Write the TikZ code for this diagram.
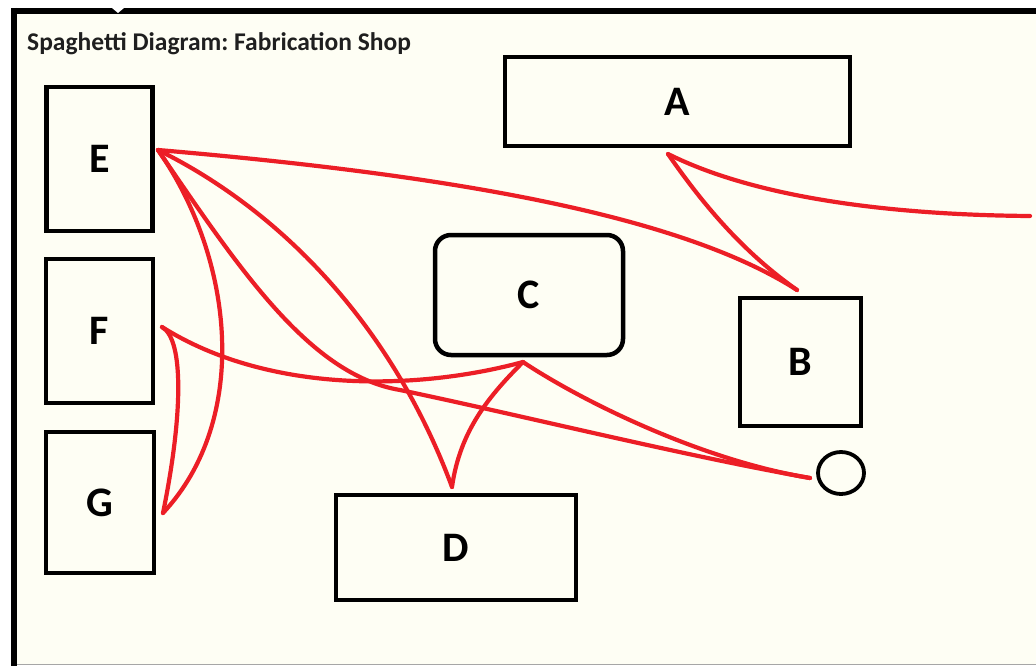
\documentclass[tikz,border=0pt]{standalone}
\usepackage{fontspec}
\setmainfont{Carlito}
\usetikzlibrary{shapes.geometric}
\definecolor{cream}{RGB}{254,254,244}
\definecolor{spag}{RGB}{236,30,38}
\frenchspacing
\begin{document}
\begin{tikzpicture}[x=1pt,y=-1pt,
  station/.style={draw=black, line width=4.5pt, inner sep=0pt,
    font=\bfseries\fontsize{42}{42}\selectfont},
  route/.style={draw=spag, line width=4.2pt, line cap=round, line join=round},
  frameline/.style={draw=black, line width=6pt}]
\useasboundingbox (0,0) rectangle (1036,666);
% background and frame
\fill[white] (0,0) rectangle (1036,666);
\fill[cream] (14,11) rectangle (1036,664);
\draw[gray!70, line width=1pt] (14,664.5) -- (1036,664.5);
\draw[frameline] (11,11) -- (1036,11);
\draw[draw=black, line width=5.5pt] (14,8) -- (14,666);
\fill[white] (112,8) -- (124,8) -- (118,13) -- cycle;
% title
\node[anchor=west, font=\bfseries\fontsize{25.5}{28}\selectfont, text=black!88, inner sep=0pt] (title) at (27,44) {Spaghetti Diagram: Fabrication Shop};
% stations
\node[station, minimum width=106pt, minimum height=144pt] (E) at (99.5,159) {E};
\node[station, minimum width=107pt, minimum height=144pt] (F) at (99.5,331) {F};
\node[station, minimum width=108pt, minimum height=141pt] (G) at (100,502.5) {G};
\node[station, minimum width=345pt, minimum height=89pt] (A) at (677.5,101.5) {A};
\node[station, minimum width=188pt, minimum height=120pt, rounded corners=16pt] (C) at (529,295) {C};
\node[station, minimum width=240pt, minimum height=105pt] (D) at (456,547.5) {D};
\node[station, minimum width=121pt, minimum height=128pt] (B) at (800.5,362) {B};
\node[ellipse, draw=black, line width=3.8pt, minimum width=46pt, minimum height=42pt, inner sep=0pt] (O) at (841,473) {};
% route ends
\coordinate (pE) at (158,150);
\coordinate (pF) at (162,327);
\coordinate (pG) at (163,513);
\coordinate (pA) at (668,154);
\coordinate (pB) at (797,290);
\coordinate (pC) at (523,362);
\coordinate (pD) at (452,487);
\coordinate (pO) at (810,478);
\coordinate (pR) at (1030,216);
\coordinate (via) at (400,390);
% routes
\draw[route] (pE) .. controls (450,175) and (680,215) .. (pB);
\draw[route] (pB) .. controls (740,250) and (700,200) .. (pA);
\draw[route] (pA) .. controls (760,200) and (900,215) .. (pR);
\draw[route] (pE) .. controls (235,260) and (250,420) .. (pG);
\draw[route] (pE) .. controls (280,210) and (392,325) .. (pD);
\draw[route] (pE) .. controls (240,270) and (310,375) .. (via) .. controls (520,415) and (680,455) .. (pO);
\draw[route] (pF) .. controls (185,340) and (182,420) .. (pG);
\draw[route] (pF) .. controls (270,395) and (420,390) .. (pC);
\draw[route] (pC) .. controls (490,395) and (460,430) .. (pD);
\draw[route] (pC) .. controls (580,400) and (700,460) .. (pO);
\end{tikzpicture}
\end{document}
